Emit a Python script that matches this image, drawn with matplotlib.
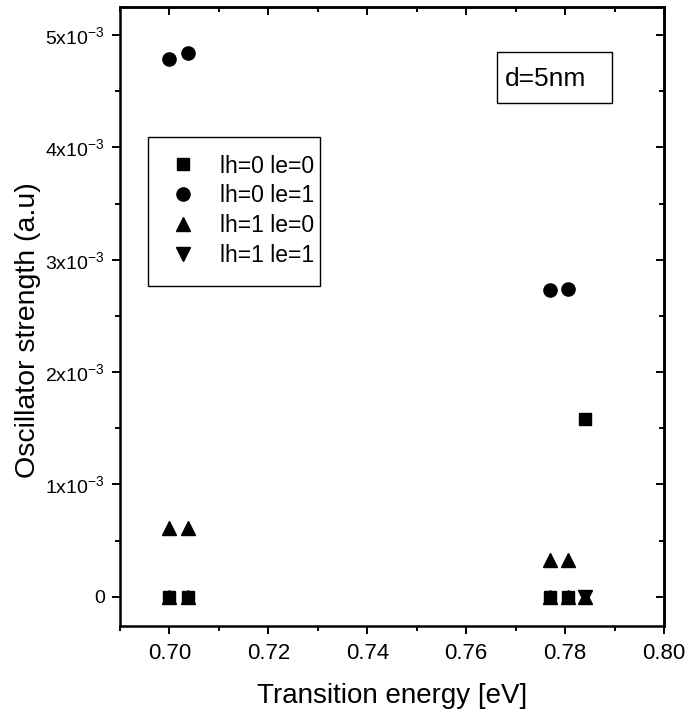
import numpy as np
import matplotlib
matplotlib.use("Agg")
import matplotlib.pyplot as plt
from matplotlib.patches import Rectangle
from matplotlib.ticker import MultipleLocator, FuncFormatter

plt.rcParams['font.family'] = ['Liberation Sans', 'DejaVu Sans']
plt.rcParams['mathtext.default'] = 'regular'

# transition energies (eV) and oscillator strengths (a.u) per series
sq_x = [0.7000, 0.7037, 0.7769, 0.7806, 0.7841]
sq_y = [0.0, 0.0, 0.0, 0.0, 1.58e-3]

ci_x = [0.7000, 0.7037, 0.7769, 0.7806]
ci_y = [4.79e-3, 4.84e-3, 2.727e-3, 2.742e-3]

up_x = [0.7000, 0.7037, 0.7769, 0.7806, 0.7000, 0.7037, 0.7769, 0.7806, 0.7841]
up_y = [0.61e-3, 0.61e-3, 0.33e-3, 0.33e-3, 0.0, 0.0, 0.0, 0.0, 0.0]

dn_x = [0.7841]
dn_y = [0.0]

labels = ['lh=0 le=0', 'lh=0 le=1', 'lh=1 le=0', 'lh=1 le=1']

fig = plt.figure(figsize=(6.91, 7.15), dpi=100)
ax = fig.add_axes([120/691, 1 - 626/715, 544/691, 619/715])

ax.plot(sq_x, sq_y, 's', color='black', ms=8.5, label=labels[0])
ax.plot(ci_x, ci_y, 'o', color='black', ms=9.5, label=labels[1])
ax.plot(up_x, up_y, '^', color='black', ms=10.5, label=labels[2])
ax.plot(dn_x, dn_y, 'v', color='black', ms=10.5, label=labels[3])

ax.set_xlim(0.69, 0.80)
ax.set_ylim(-0.26e-3, 5.25e-3)

ax.xaxis.set_major_locator(MultipleLocator(0.02))
ax.xaxis.set_minor_locator(MultipleLocator(0.01))
ax.yaxis.set_major_locator(MultipleLocator(1e-3))
ax.yaxis.set_minor_locator(MultipleLocator(0.5e-3))
ax.xaxis.set_major_formatter(FuncFormatter(lambda v, p: f"{v:.2f}"))

def yfmt(v, p):
    n = int(round(v * 1e3))
    if n == 0:
        return "0"
    return f"{n}x10$^{{-3}}$"

ax.yaxis.set_major_formatter(FuncFormatter(yfmt))

for s in ax.spines.values():
    s.set_linewidth(1.8)

ax.tick_params(which='major', direction='out', length=6, width=1.4)
ax.tick_params(which='minor', direction='out', length=3.5, width=1.4)
ax.tick_params(axis='x', labelsize=16, pad=6)
ax.tick_params(axis='y', labelsize=14, pad=5)

# mirrored ticks on top and right, pointing inward
top = ax.secondary_xaxis('top')
top.xaxis.set_major_locator(MultipleLocator(0.02))
top.xaxis.set_minor_locator(MultipleLocator(0.01))
top.tick_params(which='major', direction='in', length=6, width=1.4, labeltop=False)
top.tick_params(which='minor', direction='in', length=3.5, width=1.4)
right = ax.secondary_yaxis('right')
right.yaxis.set_major_locator(MultipleLocator(1e-3))
right.yaxis.set_minor_locator(MultipleLocator(0.5e-3))
right.tick_params(which='major', direction='in', length=6, width=1.4, labelright=False)
right.tick_params(which='minor', direction='in', length=3.5, width=1.4)
for sec in (top, right):
    for s in sec.spines.values():
        s.set_linewidth(1.8)

ax.set_xlabel('Transition energy [eV]', fontsize=20, labelpad=14)
ax.set_ylabel('Oscillator strength (a.u)', fontsize=20.5)
ax.yaxis.set_label_coords(-0.145, 0.478)

# legend frame drawn separately, entries without their own frame
ax.add_patch(Rectangle((0.0515, 0.549), 0.3162, 0.241, transform=ax.transAxes,
                       facecolor='white', edgecolor='black', linewidth=1.0, zorder=4))
leg = ax.legend(loc='upper left', bbox_to_anchor=(0.0822, 0.7617), borderaxespad=0,
                fontsize=16.5, frameon=False, numpoints=1, handlelength=1.6,
                handletextpad=0.82, labelspacing=0.3, borderpad=0)
leg.set_zorder(6)

# label box
ax.add_patch(Rectangle((0.693, 0.845), 0.211, 0.082, transform=ax.transAxes,
                       facecolor='white', edgecolor='black', linewidth=1.0, zorder=5))
ax.text(0.7077, 0.8837, 'd=5nm', transform=ax.transAxes, fontsize=19,
        ha='left', va='center', zorder=6)

fig.savefig('out.png', dpi=100)
